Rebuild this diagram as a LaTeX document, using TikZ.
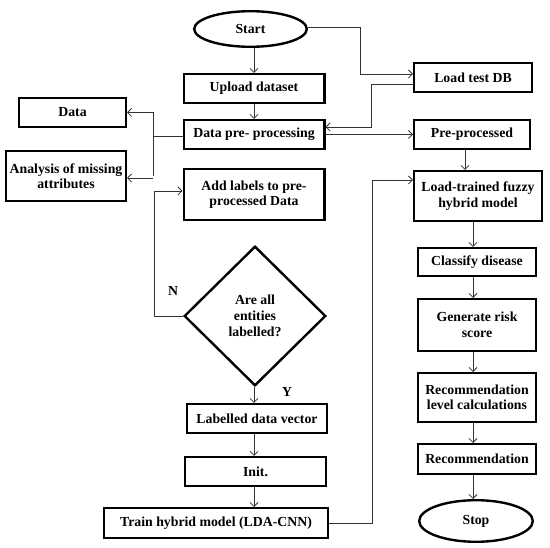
\documentclass[tikz,border=0pt]{standalone}
\usepackage{fontspec}
\setmainfont{Liberation Serif}
\usetikzlibrary{arrows.meta,shapes.geometric}
\begin{document}
\begin{tikzpicture}[x=1pt,y=-1pt,
  box/.style={draw=black,line width=2.4pt,rectangle,inner sep=0pt,align=center,
    font=\fontsize{13.8}{15.5}\selectfont\bfseries},
  oval/.style={draw=black,line width=2.4pt,ellipse,inner sep=0pt,
    font=\fontsize{13.8}{15.5}\selectfont\bfseries},
  dec/.style={draw=black,line width=2.4pt,diamond,inner sep=0pt,align=center,
    font=\fontsize{13.8}{16}\selectfont\bfseries},
  lbl/.style={font=\fontsize{13.8}{15.5}\selectfont\bfseries,inner sep=0pt},
  conn/.style={draw=black!80,line width=0.8pt},
  arr/.style={conn,-{Straight Barb[length=4pt,width=8pt,line width=0.8pt]}}]
\useasboundingbox (0,0) rectangle (550,548);
% nodes
\node[oval,minimum width=112.6pt,minimum height=35.6pt] (start) at (250.5,29) {Start};
\node[box,minimum width=140.6pt,minimum height=28.6pt] (upload) at (254,88.5) {Upload dataset};
\node[box,minimum width=140.6pt,minimum height=28.6pt] (prep) at (254,134.5) {Data pre- processing};
\node[box,minimum width=106.6pt,minimum height=28.6pt] (data) at (72.5,112.5) {Data};
\node[box,minimum width=119.6pt,minimum height=49.6pt] (miss) at (66,176) {Analysis of missing\\attributes};
\node[box,minimum width=140.6pt,minimum height=50.6pt] (addl) at (254,194.5) {Add labels to pre-\\processed Data};
\node[dec,minimum width=141.6pt,minimum height=139.6pt] (dia) at (255,316) {Are all\\entities\\labelled?};
\node[box,minimum width=139.6pt,minimum height=28.6pt] (ldv) at (257,418.5) {Labelled data vector};
\node[box,minimum width=140.6pt,minimum height=28.6pt] (init) at (255.5,471.5) {Init.};
\node[box,minimum width=223.6pt,minimum height=29.6pt] (train) at (216,523) {Train hybrid model (LDA-CNN)};
\node[box,minimum width=117.6pt,minimum height=28.6pt] (ltdb) at (473,77.5) {Load test DB};
\node[box,minimum width=115.6pt,minimum height=28.6pt] (pre) at (472,134.5) {Pre-processed};
\node[box,minimum width=127.6pt,minimum height=49.6pt] (ltf) at (478,196) {Load-trained fuzzy\\hybrid model};
\node[box,minimum width=117.6pt,minimum height=27.6pt] (cls) at (477,262) {Classify disease};
\node[box,minimum width=117.6pt,minimum height=51.6pt] (grs) at (477,325) {Generate risk\\score};
\node[box,minimum width=117.6pt,minimum height=48.6pt] (rlc) at (477,397.5) {Recommendation\\level calculations};
\node[box,minimum width=117.6pt,minimum height=29.6pt] (rec) at (477,459) {Recommendation};
\node[oval,minimum width=113.6pt,minimum height=41.6pt] (stop) at (476,521) {Stop};
\node[lbl] (nlab) at (173,291) {N};
\node[lbl] (ylab) at (287,392) {Y};
% bend coordinates
\coordinate (bA) at (360,27);
\coordinate (bB) at (371,84);
\coordinate (bC) at (153,136);
\coordinate (bD) at (154,316);
\coordinate (bE) at (372,523);
\coordinate (cL) at (254,0);
\coordinate (cR) at (473,0);
% left column
\draw[arr] (start.south -| cL) -- (upload.north -| cL);
\draw[arr] (upload.south -| cL) -- (prep.north -| cL);
\draw[arr] (dia.south -| cL) -- (ldv.north -| cL);
\draw[arr] (ldv.south -| cL) -- (init.north -| cL);
\draw[arr] (init.south -| cL) -- (train.north -| cL);
% data branches
\draw[conn] (prep.west |- bC) -- (bC);
\draw[conn] (bC |- data.east) -- (bC |- miss.east);
\draw[arr] (bC |- data.east) -- (data.east);
\draw[arr] ([yshift=-2pt]bC |- miss.east) -- ([yshift=-2pt]miss.east);
% N loop
\draw[arr] (dia.west) -- (bD) |- ([yshift=3.5pt]addl.west);
% start to load test DB
\draw[arr] ([yshift=2pt]start.east) -- (bA) |- ([yshift=3.5pt]ltdb.west);
% load test DB to pre-processing
\draw[arr] ([yshift=-6.5pt]ltdb.west) -- (bB) |- ([yshift=7.5pt]prep.east);
% pre-processing to pre-processed
\draw[arr] (prep.east) -- (pre.west);
% train to load-trained
\draw[arr] (train.east) -- (bE) |- ([yshift=16pt]ltf.west);
% right column
\draw[arr] ([xshift=-7pt]pre.south) -- ([xshift=-7pt]pre.south |- ltf.north);
\draw[arr] (ltf.south -| cR) -- (cls.north -| cR);
\draw[arr] (cls.south -| cR) -- (grs.north -| cR);
\draw[arr] (grs.south -| cR) -- (rlc.north -| cR);
\draw[arr] (rlc.south -| cR) -- (rec.north -| cR);
\draw[arr] (rec.south -| cR) -- (stop.north -| cR);
\end{tikzpicture}
\end{document}
